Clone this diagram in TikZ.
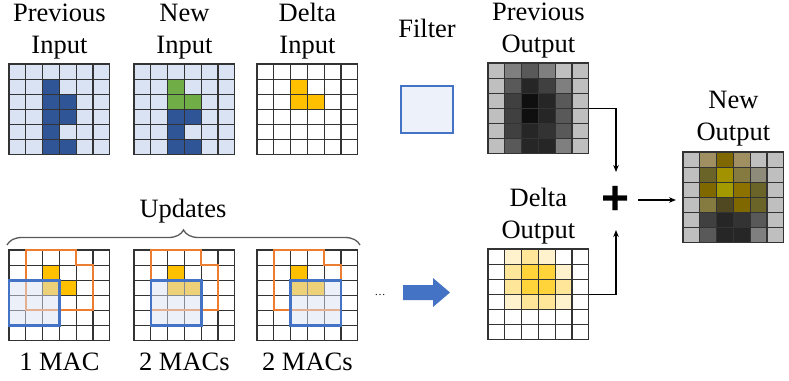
\documentclass[tikz,border=0pt]{standalone}
\usepackage{fontspec}
\setmainfont{Liberation Serif}
\setsansfont{Liberation Sans}
\usetikzlibrary{positioning,arrows.meta,decorations.pathreplacing}

% input colours
\definecolor{pl}{HTML}{DAE3F3}
\definecolor{pd}{HTML}{2F5597}
\definecolor{gn}{HTML}{70AD47}
\definecolor{au}{HTML}{FFC000}
\definecolor{wt}{HTML}{FFFFFF}
% output greys
\definecolor{k1}{HTML}{BFBFBF}
\definecolor{k2}{HTML}{7F7F7F}
\definecolor{k3}{HTML}{595959}
\definecolor{k4}{HTML}{404040}
\definecolor{k5}{HTML}{333333}
\definecolor{k6}{HTML}{262626}
\definecolor{k7}{HTML}{0F0F0F}
% new output olives
\definecolor{o1}{HTML}{A08F60}
\definecolor{o2}{HTML}{7F6800}
\definecolor{o3}{HTML}{6B6428}
\definecolor{o4}{HTML}{A39200}
\definecolor{o5}{HTML}{857A40}
\definecolor{o6}{HTML}{8F8B7A}
\definecolor{o7}{HTML}{A39A00}
\definecolor{o8}{HTML}{8E7200}
\definecolor{o9}{HTML}{504820}
% delta output yellows
\definecolor{y1}{HTML}{FFF2CC}
\definecolor{y2}{HTML}{FFE699}
\definecolor{y3}{HTML}{FFD43B}
% filter / receptive field
\definecolor{filt}{HTML}{4472C4}
\definecolor{filtbg}{HTML}{EDF1F9}
\definecolor{rf}{HTML}{ED7D31}

% 6x6 grid: #1 name, #2 x, #3 y (top left), #4 colours row by row
\newcommand{\cellgrid}[4]{%
  \node[gridbox] (#1) at (#2+50.4,#3+45.3) {};
  \foreach \col [count=\i from 0] in {#4} {
    \pgfmathtruncatemacro{\gr}{floor(\i/6)}
    \pgfmathtruncatemacro{\gc}{\i-6*\gr}
    \draw[cell, fill=\col] (#2+\gc*16.8,#3+\gr*15.1) rectangle ++(16.8,15.1);
  }
}

\begin{document}
\begin{tikzpicture}[x=1pt, y=-1pt]
  \tikzset{
    gridbox/.style={rectangle, minimum width=100.8pt, minimum height=90.6pt, inner sep=0pt, outer sep=0pt},
    cell/.style={draw=black!80, line width=1.1pt},
    lbl/.style={font=\fontsize{26.5}{32}\selectfont, align=center, inner sep=0pt},
    conn/.style={draw=black, line width=1.2pt, -{Stealth[length=7pt,width=5.5pt]}},
    rfield/.style={draw=rf, line width=2pt},
    win/.style={draw=filt, line width=2.6pt, fill=pl, fill opacity=0.5, draw opacity=1},
    brace/.style={decorate, decoration={brace, amplitude=15pt}, draw=black!65, line width=1.3pt}
  }
  \useasboundingbox (0,0) rectangle (789,380);

  % top row: inputs
  \cellgrid{pin}{9}{64}{pl,pl,pl,pl,pl,pl,%
    pl,pl,pd,pl,pl,pl,%
    pl,pl,pd,pd,pl,pl,%
    pl,pl,pd,pd,pl,pl,%
    pl,pl,pd,pl,pl,pl,%
    pl,pl,pd,pd,pl,pl}
  \cellgrid{nin}{134}{64}{pl,pl,pl,pl,pl,pl,%
    pl,pl,gn,pl,pl,pl,%
    pl,pl,gn,gn,pl,pl,%
    pl,pl,pd,pd,pl,pl,%
    pl,pl,pd,pl,pl,pl,%
    pl,pl,pd,pd,pl,pl}
  \cellgrid{din}{257}{64}{wt,wt,wt,wt,wt,wt,%
    wt,wt,au,wt,wt,wt,%
    wt,wt,au,au,wt,wt,%
    wt,wt,wt,wt,wt,wt,%
    wt,wt,wt,wt,wt,wt,%
    wt,wt,wt,wt,wt,wt}

  \node[lbl, above=5pt of pin] (pinlbl) {Previous\\Input};
  \node[lbl, above=5pt of nin] (ninlbl) {New\\Input};
  \node[lbl, above=5pt of din] (dinlbl) {Delta\\Input};

  % filter
  \draw[draw=filt, fill=filtbg, line width=2.6pt] (401,86) rectangle (453,133);
  \node[lbl, anchor=base] (filtlbl) at (427,37) {Filter};

  % outputs
  \cellgrid{pout}{488}{63}{k1,k2,k3,k2,k1,k1,%
    k1,k3,k6,k4,k2,k1,%
    k1,k4,k7,k6,k3,k1,%
    k1,k4,k7,k6,k3,k1,%
    k1,k4,k6,k5,k3,k1,%
    k1,k3,k6,k6,k2,k1}
  \cellgrid{dout}{488}{249}{wt,y1,y2,y1,wt,wt,%
    wt,y2,y3,y3,y1,wt,%
    wt,y2,y3,y3,y2,wt,%
    wt,y1,y2,y2,y1,wt,%
    wt,wt,wt,wt,wt,wt,%
    wt,wt,wt,wt,wt,wt}
  \cellgrid{nout}{683}{152}{k1,o1,o2,o1,k1,k1,%
    k1,o3,o4,o5,o6,k1,%
    k1,o2,o7,o8,o3,k1,%
    k1,o5,o9,o2,o3,k1,%
    k1,k4,k6,k5,k3,k1,%
    k1,k3,k6,k6,k2,k1}

  \node[lbl, above=5pt of pout] (poutlbl) {Previous\\Output};
  \node[lbl, above=5pt of dout] (doutlbl) {Delta\\Output};
  \node[lbl, above=6pt of nout] (noutlbl) {New\\Output};

  % sum
  \node[font=\fontsize{48}{48}\selectfont\sffamily\bfseries, inner sep=0pt] (plus) at (616,200) {+};
  \coordinate (sumtop) at (616,172);
  \coordinate (sumbot) at (616,230);
  \coordinate (sumout) at (638,200);
  \draw[conn] (pout.east) -| (sumtop);
  \draw[conn] (dout.east) -| (sumbot);
  \draw[conn, shorten >=7pt] (sumout) -- (sumout -| nout.west);

  % updates row
  \foreach \gx/\wx/\nm in {9/0/ua, 134/1/ub, 257/2/uc} {
    \cellgrid{\nm}{\gx}{250}{wt,wt,wt,wt,wt,wt,%
      wt,wt,au,wt,wt,wt,%
      wt,wt,au,au,wt,wt,%
      wt,wt,wt,wt,wt,wt,%
      wt,wt,wt,wt,wt,wt,%
      wt,wt,wt,wt,wt,wt}
    \begin{scope}[shift={(\gx,250)}, x=16.8pt, y=-15.1pt]
      \draw[rfield] (1,0) -- (4,0) -- (4,1) -- (5,1) -- (5,4) -- (1,4) -- cycle;
      \draw[win] (\wx,2) rectangle (\wx+3,5);
    \end{scope}
  }

  \node[lbl, below=12pt of ua] (macsa) {1 MAC};
  \node[lbl, below=12pt of ub] (macsb) {2 MACs};
  \node[lbl, below=12pt of uc] (macsc) {2 MACs};

  \draw[brace] (7,245) -- (360,245);
  \node[lbl, anchor=base] (updlbl) at (183,217) {Updates};

  % more updates, then the result
  \node[font=\fontsize{11}{11}\selectfont, anchor=base] (more) at (380,295) {\dots};
  \fill[filt] (403,285) -- (433,285) -- (433,278) -- (450,292.5) -- (433,307)
    -- (433,300) -- (403,300) -- cycle;
\end{tikzpicture}
\end{document}
